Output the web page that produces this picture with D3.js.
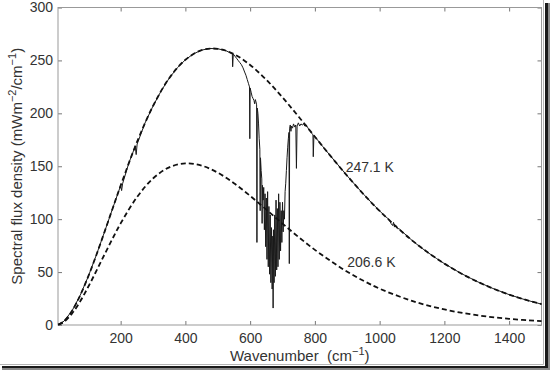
<!DOCTYPE html>
<html>
<head>
<meta charset="utf-8">
<script src="https://cdn.jsdelivr.net/npm/d3@7"></script>
<style>
  body { margin: 0; background: #fff; }
  text { font-family: 'Liberation Sans', Arial, sans-serif; fill: #333; }
</style>
</head>
<body>
<div id="chart"></div>
<script>
// Planck curves
const wavenumbers = [7, 25, 50, 75, 100, 125, 150, 175, 200, 250, 300, 350, 400, 450, 500, 550, 600, 650, 700, 750, 800, 850, 900, 950, 1000, 1100, 1200, 1300, 1400, 1500]
const warmFlux = [0.3, 3.6, 13.4, 28.0, 45.9, 66.2, 87.8, 109.9, 131.7, 172.5, 206.9, 233.2, 250.6, 259.7, 261.0, 256.0, 245.7, 231.7, 215.0, 196.8, 177.9, 159.1, 140.9, 123.7, 107.8, 80.0, 58.0, 41.2, 28.7, 19.7]
const coldFlux = [0.25, 3.0, 10.9, 22.3, 36.1, 51.1, 66.5, 81.6, 96.0, 120.6, 138.4, 149.0, 152.7, 150.6, 143.9, 134.0, 122.0, 109.0, 95.8, 83.0, 71.0, 60.2, 50.3, 41.8, 34.3, 22.8, 14.7, 9.3, 5.8, 3.6]

// measured spectrum
const specNu = [7, 25, 50, 75, 100, 125, 150, 175, 200, 203, 206, 225, 245, 248, 251, 275, 300, 325, 350, 375, 400, 425, 450, 475, 500, 525, 540, 545, 546, 548,
  553, 558, 563, 568, 573, 578, 583, 587, 591, 595, 598, 599, 600, 603, 606, 609, 612, 614, 616, 618, 620, 621, 622, 624, 626, 628, 630, 631, 632, 634, 636, 637, 638,
  640, 642, 644, 646, 648, 650, 652, 654, 656, 658, 660, 662, 664, 666, 668, 670, 671, 672, 674, 676, 678, 680, 682, 684, 686, 688, 690, 692, 694, 696, 698,
  700, 702, 704, 706, 708, 710, 712, 714, 716, 718, 720, 721, 722, 724, 726, 728, 731, 734, 738, 741, 743, 745, 749, 753, 757, 761, 765, 769, 773, 777, 781,
  786, 790, 794, 795, 797, 800, 825, 850, 875, 900, 925, 950, 975, 1000, 1020, 1030, 1035, 1040, 1043, 1046, 1050, 1055, 1060, 1075, 1100, 1125, 1150,
  1175, 1200, 1250, 1300, 1350, 1400, 1450, 1500]
const specFlux = [0.3, 3.6, 13.5, 28, 45.9, 66.2, 87.8, 109.9, 131.7, 127, 133.5, 152.8, 168.8, 161, 171, 190.7, 206.9, 221.1, 233.2, 243, 250.6, 256.2, 259.7, 261.3, 261, 259.2, 257, 256, 244, 256,
  254, 252, 250, 248, 246, 243, 239, 236, 232, 228, 225, 176, 224, 220, 216, 214, 212, 209, 213, 211, 208, 78, 205, 200, 190, 176, 166, 108, 158, 146, 138, 96, 132,
  118, 130, 90, 124, 74, 120, 62, 126, 55, 112, 48, 104, 40, 92, 34, 84, 16, 90, 40, 104, 46, 118, 52, 110, 55, 124, 62, 116, 70, 108, 78,
  116, 88, 108, 100, 126, 134, 146, 158, 168, 176, 182, 58, 186, 189, 183, 188, 186, 190, 187, 189, 148, 188, 191, 188, 190, 189, 190, 188, 189, 187, 185,
  183, 181, 180, 159, 179, 178, 168.4, 159.1, 150, 140.9, 132.2, 123.7, 115.6, 107.8, 102, 99.5, 96, 94, 97, 92.5, 94, 91, 91, 86.8, 80, 73.8, 68.3,
  63, 58, 49, 41.2, 34.5, 28.7, 23.8, 19.7]

const xTicks = [200, 400, 600, 800, 1000, 1200, 1400]
const yTicks = [0, 50, 100, 150, 200, 250, 300]

const curveLabels = [
  { nu: 895, flux: 145, text: '247.1 K' },
  { nu: 900, flux: 55, text: '206.6 K' }
]

const margin = { top: 7.5, left: 58, right: 8.5, bottom: 45 }
const width = 550 - margin.left - margin.right
const height = 370 - margin.top - margin.bottom

const root = d3
  .select('#chart')
  .append('svg')
  .attr('width', 550)
  .attr('height', 370)

// picture frame with a drop shadow on the right and bottom
root.append('rect')
  .attr('x', 0).attr('y', 0).attr('width', 550).attr('height', 370)
  .attr('fill', '#fff')
root.append('rect')
  .attr('x', 545).attr('y', 3).attr('width', 3).attr('height', 366)
  .attr('fill', '#1a1a1a')
root.append('rect')
  .attr('x', 548).attr('y', 3).attr('width', 2).attr('height', 367)
  .attr('fill', '#8a8a8a')
root.append('rect')
  .attr('x', 2).attr('y', 366).attr('width', 546).attr('height', 2)
  .attr('fill', '#1a1a1a')
root.append('rect')
  .attr('x', 2).attr('y', 368).attr('width', 548).attr('height', 2)
  .attr('fill', '#8a8a8a')
root.append('path')
  .attr('d', 'M543.5,0V364.5H0')
  .attr('fill', 'none')
  .attr('stroke', '#b5b5b5')

const svg = root.append('g')
  .attr('transform', 'translate(' + margin.left + ',' + margin.top + ')')

const xPositionScale = d3.scaleLinear().domain([6.5, 1500]).range([0, width])
const yPositionScale = d3.scaleLinear().domain([0, 300]).range([height, 0])

const line = d3.line()
  .x(d => xPositionScale(d[0]))
  .y(d => yPositionScale(d[1]))

// axes with inward ticks on all four sides
const tickColor = '#777'
function styleAxis (g) {
  g.select('.domain').remove()
  g.selectAll('line').attr('stroke', tickColor)
  g.selectAll('text').attr('font-size', 14).attr('fill', '#333')
}

svg.append('g')
  .attr('transform', 'translate(0,' + height + ')')
  .call(d3.axisBottom(xPositionScale).tickValues(xTicks).tickFormat(d3.format('d')).tickSizeInner(-4).tickSizeOuter(0).tickPadding(8))
  .call(styleAxis)
svg.append('g')
  .call(d3.axisTop(xPositionScale).tickValues(xTicks).tickSizeInner(-4).tickSizeOuter(0).tickFormat(''))
  .call(styleAxis)
svg.append('g')
  .call(d3.axisLeft(yPositionScale).tickValues(yTicks).tickFormat(d3.format('d')).tickSizeInner(-4).tickSizeOuter(0).tickPadding(5))
  .call(styleAxis)
svg.append('g')
  .attr('transform', 'translate(' + width + ',0)')
  .call(d3.axisRight(yPositionScale).tickValues(yTicks).tickSizeInner(-4).tickSizeOuter(0).tickFormat(''))
  .call(styleAxis)

svg.append('rect')
  .attr('x', 0).attr('y', 0).attr('width', width).attr('height', height)
  .attr('fill', 'none')
  .attr('stroke', '#999')

// measured spectrum
svg.append('path')
  .datum(d3.zip(specNu, specFlux))
  .attr('d', line)
  .attr('fill', 'none')
  .attr('stroke', '#1a1a1a')
  .attr('stroke-width', 1)

// blackbody curves
const smooth = d3.line()
  .x(d => xPositionScale(d[0]))
  .y(d => yPositionScale(d[1]))
  .curve(d3.curveCatmullRom)

svg.selectAll('.planck')
  .data([d3.zip(wavenumbers, warmFlux), d3.zip(wavenumbers, coldFlux)])
  .enter().append('path')
  .attr('class', 'planck')
  .attr('d', smooth)
  .attr('fill', 'none')
  .attr('stroke', '#111')
  .attr('stroke-width', 1.8)
  .attr('stroke-dasharray', '5,3')

svg.selectAll('.curve-label')
  .data(curveLabels)
  .enter().append('text')
  .attr('class', 'curve-label')
  .attr('x', d => xPositionScale(d.nu))
  .attr('y', d => yPositionScale(d.flux))
  .attr('font-size', 14)
  .text(d => d.text)

// axis titles
const xTitle = svg.append('text')
  .attr('x', width / 2)
  .attr('y', height + 36)
  .attr('text-anchor', 'middle')
  .attr('font-size', 15)
  .style('white-space', 'pre')
xTitle.append('tspan').text('Wavenumber  (cm')
xTitle.append('tspan').attr('font-size', 11).attr('dy', -6).text('−1')
xTitle.append('tspan').attr('dy', 6).text(')')

const yTitle = svg.append('text')
  .attr('transform', 'rotate(-90)')
  .attr('x', -height / 2)
  .attr('y', -margin.left + 22)
  .attr('text-anchor', 'middle')
  .attr('font-size', 15)
yTitle.append('tspan').text('Spectral flux density (mWm')
yTitle.append('tspan').attr('font-size', 11).attr('dy', -6).text('−2')
yTitle.append('tspan').attr('dy', 6).text('/cm')
yTitle.append('tspan').attr('font-size', 11).attr('dy', -6).text('−1')
yTitle.append('tspan').attr('dy', 6).text(')')
</script>
</body>
</html>
